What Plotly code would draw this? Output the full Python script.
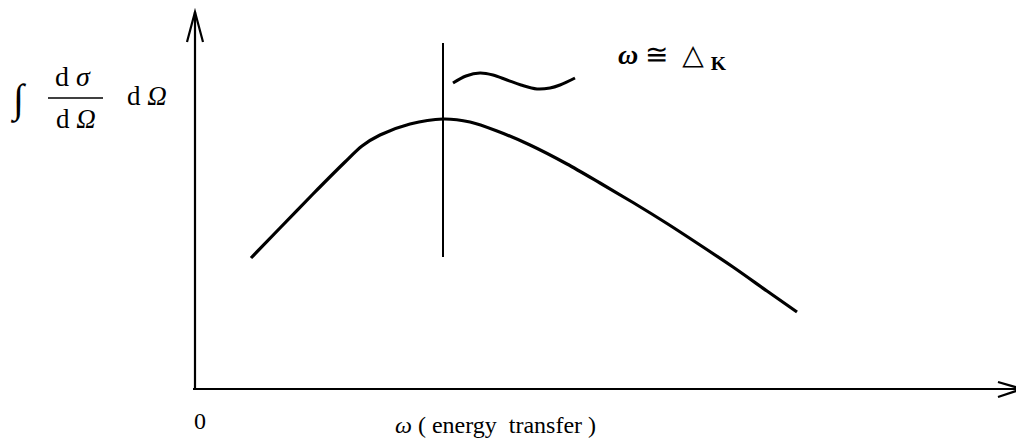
import plotly.graph_objects as go

# courbe principale : intensité intégrée en fonction de omega
omega = [0.56, 0.85, 1.18, 1.50, 1.67, 1.85, 2.15, 2.48, 2.75, 3.02, 3.35,
         3.72, 4.05, 4.38, 4.72, 5.05, 5.38, 5.72, 6.02]
intensity = [1.31, 1.61, 1.95, 2.27, 2.43, 2.54, 2.65, 2.70, 2.67, 2.58, 2.44,
             2.25, 2.06, 1.865, 1.655, 1.44, 1.22, 0.98, 0.77]

# ligne verticale à omega = delta_K
delta_k = 2.48
marker_y = [1.32, 3.46]

# petite vague (symbole ~)
wave_x = [2.58, 2.71, 2.85, 2.98, 3.12, 3.26, 3.42, 3.55, 3.65, 3.80]
wave_y = [3.06, 3.13, 3.16, 3.14, 3.09, 3.04, 3.00, 3.01, 3.04, 3.11]

x_max, y_max = 8.27, 3.77

font = "Liberation Serif, DejaVu Serif, serif"
black = "#000000"

fig = go.Figure()

fig.add_trace(go.Scatter(x=omega, y=intensity, mode='lines', line_shape='spline',
                         line=dict(color=black, width=3.2, smoothing=0.8), hoverinfo='skip'))
fig.add_trace(go.Scatter(x=[delta_k, delta_k], y=marker_y, mode='lines',
                         line=dict(color=black, width=2), hoverinfo='skip'))
fig.add_trace(go.Scatter(x=wave_x, y=wave_y, mode='lines', line_shape='spline',
                         line=dict(color=black, width=3), hoverinfo='skip'))

# axes avec flèches ouvertes
ax = dict(color=black, width=2.2)
fig.add_shape(type='line', x0=0, y0=0, x1=0, y1=y_max, line=ax)
fig.add_shape(type='line', x0=-0.02, y0=0, x1=x_max, y1=0, line=ax)
fig.add_shape(type='path', path=f"M -0.08,{y_max-0.30} L 0,{y_max} L 0.08,{y_max-0.30}", line=ax)
fig.add_shape(type='path', path=f"M {x_max-0.24},0.07 L {x_max},0 L {x_max-0.24},-0.08", line=ax)

# étiquette de l'axe y : intégrale de dσ/dΩ
fig.add_shape(type='line', x0=-1.47, y0=2.91, x1=-0.92, y1=2.91, line=dict(color=black, width=1.5))


def label(x, y, text, size=26, **kw):
    fig.add_annotation(x=x, y=y, text=text, showarrow=False,
                       font=dict(family=font, size=size, color=black), **kw)


label(-1.77, 2.90, "<i>∫</i>", size=40)
label(-1.22, 3.13, "d <i>σ</i>", size=28)
label(-1.19, 2.70, "d <i>Ω</i>", size=27)
label(-0.48, 2.93, "d <i>Ω</i>", size=27)

label(4.21, 3.33, "<b><i>ω</i></b> ≅  △ <sub><b>K</b></sub>", size=28, xanchor='left')
label(0.05, -0.32, "0", size=24)
label(3.00, -0.36, "<i>ω</i> ( energy  transfer )", size=24)

# la page ajoute une marge de 8 px : on décale les plages d'autant
fig.update_layout(
    width=1024, height=446,
    margin=dict(l=0, r=0, t=0, b=0),
    paper_bgcolor='white', plot_bgcolor='white',
    showlegend=False,
    xaxis=dict(range=[-1.87, 8.37], visible=False, fixedrange=True),
    yaxis=dict(range=[-0.65, 3.81], visible=False, fixedrange=True),
)

fig.write_html("out.html")
